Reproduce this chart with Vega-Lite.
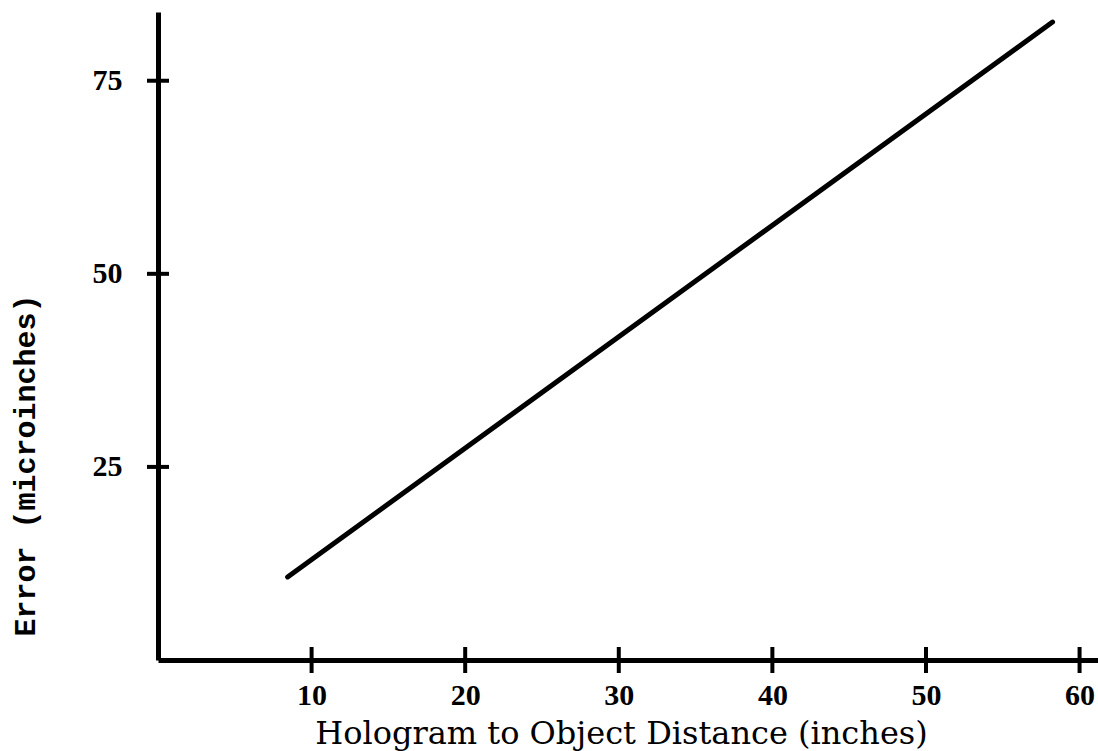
{
  "$schema": "https://vega.github.io/schema/vega-lite/v6.json",
  "width": 940,
  "height": 648,
  "autosize": {"type": "none"},
  "padding": {"left": 158, "top": 12, "right": 0, "bottom": 91},
  "background": "white",
  "config": {"view": {"stroke": null}},
  "datasets": {
    "line": [
      {"distance": 8.44, "error": 10.75},
      {"distance": 58.24, "error": 82.6}
    ],
    "xticks": [
      {"distance": 10, "error": 0},
      {"distance": 20, "error": 0},
      {"distance": 30, "error": 0},
      {"distance": 40, "error": 0},
      {"distance": 50, "error": 0},
      {"distance": 60, "error": 0}
    ],
    "yticks": [
      {"distance": 0, "error": 25},
      {"distance": 0, "error": 50},
      {"distance": 0, "error": 75}
    ]
  },
  "encoding": {
    "x": {
      "field": "distance",
      "type": "quantitative",
      "scale": {"domain": [0, 61.2], "nice": false, "zero": false},
      "axis": {
        "title": "Hologram to Object Distance (inches)",
        "values": [10, 20, 30, 40, 50, 60],
        "grid": false,
        "ticks": false,
        "domainWidth": 5,
        "domainColor": "black",
        "labelFont": "Liberation Serif",
        "labelFontWeight": "bold",
        "labelFontSize": 30,
        "labelColor": "black",
        "labelPadding": 20,
        "labelFlush": false,
        "titleFont": "DejaVu Serif",
        "titleFontWeight": "normal",
        "titleFontSize": 32,
        "titleColor": "black",
        "titleX": 463,
        "titleY": 83,
        "titleAlign": "center",
        "titleBaseline": "alphabetic"
      }
    },
    "y": {
      "field": "error",
      "type": "quantitative",
      "scale": {"domain": [0, 83.9], "nice": false, "zero": false},
      "axis": {
        "title": "Error (microinches)",
        "values": [25, 50, 75],
        "grid": false,
        "ticks": false,
        "domainWidth": 5,
        "domainColor": "black",
        "labelFont": "Liberation Serif",
        "labelFontWeight": "bold",
        "labelFontSize": 30,
        "labelColor": "black",
        "labelPadding": 36,
        "labelBaseline": "middle",
        "titleFont": "Liberation Mono",
        "titleFontWeight": "bold",
        "titleFontSize": 30,
        "titleColor": "black",
        "titleAngle": -90,
        "titleX": -133,
        "titleY": 453,
        "titleAlign": "center",
        "titleBaseline": "middle"
      }
    }
  },
  "layer": [
    {
      "data": {"name": "line"},
      "mark": {"type": "line", "color": "black", "strokeWidth": 5, "strokeCap": "round"}
    },
    {
      "data": {"name": "xticks"},
      "mark": {"type": "tick", "orient": "vertical", "color": "black", "size": 26, "thickness": 4, "opacity": 1}
    },
    {
      "data": {"name": "yticks"},
      "mark": {"type": "tick", "orient": "horizontal", "color": "black", "size": 22, "thickness": 4, "opacity": 1}
    }
  ]
}
